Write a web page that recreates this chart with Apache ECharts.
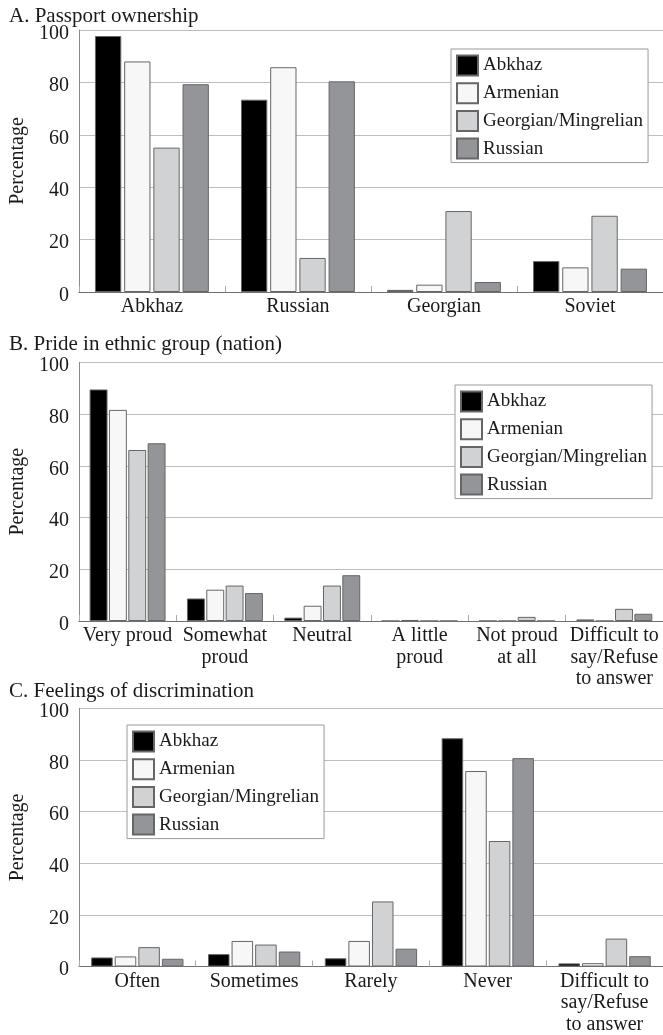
<!DOCTYPE html>
<html>
<head>
<meta charset="utf-8">
<script src="https://cdn.jsdelivr.net/npm/echarts@6/dist/echarts.min.js"></script>
<style>
html,body{margin:0;padding:0;background:#fff;}
#c{width:663px;height:1035px;}
</style>
</head>
<body>
<div id="c"></div>
<script>
const titles = ['A. Passport ownership', 'B. Pride in ethnic group (nation)', 'C. Feelings of discrimination'];
const groups = ['Abkhaz', 'Armenian', 'Georgian/Mingrelian', 'Russian'];
const colors = ['#000000', '#f7f7f7', '#d1d2d4', '#939598'];
const yTicks = [0, 20, 40, 60, 80, 100];

const catsA = ['Abkhaz', 'Russian', 'Georgian', 'Soviet'];
const abkhazA = [97.7, 73.4, 0.8, 11.8];
const armenianA = [88.0, 85.8, 2.8, 9.4];
const georgianA = [55.1, 13.0, 30.9, 29.1];
const russianA = [79.3, 80.4, 3.8, 8.9];

const catsB = ['Very proud', 'Somewhat\nproud', 'Neutral', 'A little\nproud', 'Not proud\nat all', 'Difficult to\nsay/Refuse\nto answer'];
const abkhazB = [89.5, 8.7, 1.3, 0, 0, 0.6];
const armenianB = [81.6, 12.1, 5.9, 0.4, 0, 0];
const georgianB = [66.1, 13.7, 13.7, 0, 1.6, 4.7];
const russianB = [68.7, 10.8, 17.7, 0, 0, 2.8];

const catsC = ['Often', 'Sometimes', 'Rarely', 'Never', 'Difficult to\nsay/Refuse\nto answer'];
const abkhazC = [3.5, 4.8, 3.2, 88.4, 1.2];
const armenianC = [3.9, 9.9, 9.9, 75.7, 1.3];
const georgianC = [7.5, 8.5, 25.2, 48.6, 10.8];
const russianC = [3.0, 5.8, 6.9, 80.7, 4.0];

const panels = [
  {cats: catsA, data: [abkhazA, armenianA, georgianA, russianA]},
  {cats: catsB, data: [abkhazB, armenianB, georgianB, russianB]},
  {cats: catsC, data: [abkhazC, armenianC, georgianC, russianC]}
];

// layout (pixels)
const layout = [
  {left: 67.5, top: 30, width: 602, height: 262, titleTop: 6, legLeft: 451, legTop: 49, barGap: '11%', catGap: '22%'},
  {left: 66.5, top: 362.3, width: 600.5, height: 258.7, titleTop: 334, legLeft: 455, legTop: 385, barGap: '8%', catGap: '22%'},
  {left: 66.5, top: 708.3, width: 599, height: 260, titleTop: 681, legLeft: 127, legTop: 725, barGap: '9.5%', catGap: '21%'}
];

const font = 'Liberation Serif';
const textColor = '#1a1a1a';

const option = {
  animation: false,
  backgroundColor: '#ffffff',
  textStyle: {fontFamily: font, color: textColor},
  title: layout.map((l, i) => ({
    text: titles[i], left: 9, top: l.titleTop, padding: 0,
    textStyle: {fontFamily: font, fontSize: 21, fontWeight: 'normal', color: textColor}
  })),
  legend: layout.map((l) => ({
    data: groups, orient: 'vertical', left: l.legLeft, top: l.legTop,
    icon: 'rect', itemWidth: 21, itemHeight: 20, itemGap: 5.7,
    padding: [5.5, 5, 3, 5],
    backgroundColor: '#ffffff', borderColor: '#9a9a9a', borderWidth: 1,
    textStyle: {fontFamily: font, fontSize: 19, color: textColor},
    selectedMode: false
  })),
  grid: layout.map((l) => ({left: l.left, top: l.top, width: l.width, height: l.height, containLabel: false})),
  xAxis: panels.map((p, i) => ({
    type: 'category', gridIndex: i, data: p.cats, z: 3,
    axisLine: {lineStyle: {color: '#6e6e6e', width: 1}},
    axisTick: {show: true, inside: true, length: 6, alignWithLabel: false, lineStyle: {color: '#aaaaaa'}},
    axisLabel: {interval: 0, fontFamily: font, fontSize: 20, lineHeight: 21.5, margin: 4, color: textColor, hideOverlap: false},
    splitLine: {show: false}
  })),
  yAxis: panels.map((p, i) => ({
    type: 'value', gridIndex: i, min: yTicks[0], max: yTicks[yTicks.length - 1], interval: yTicks[1] - yTicks[0],
    name: 'Percentage', nameLocation: 'middle', nameGap: 33,
    nameTextStyle: {fontFamily: font, fontSize: 20, color: textColor},
    axisLine: {show: true, lineStyle: {color: '#8a8a8a', width: 1}},
    axisTick: {show: false},
    axisLabel: {fontFamily: font, fontSize: 20, color: textColor, margin: 10, verticalAlign: 'top', lineHeight: 7},
    splitLine: {show: true, lineStyle: {color: '#bdbdbd', width: 1}}
  })),
  series: []
};

panels.forEach((p, i) => {
  groups.forEach((g, k) => {
    option.series.push({
      type: 'bar', name: g, xAxisIndex: i, yAxisIndex: i,
      data: p.data[k],
      barGap: layout[i].barGap, barCategoryGap: layout[i].catGap,
      itemStyle: {color: colors[k], borderColor: '#666666', borderWidth: 1},
      emphasis: {disabled: true}
    });
  });
});

const chart = echarts.init(document.getElementById('c'), null, {renderer: 'canvas'});
chart.setOption(option);
</script>
</body>
</html>
